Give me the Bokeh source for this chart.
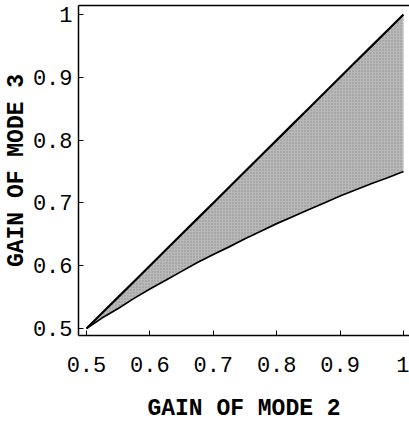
from bokeh.plotting import figure
from bokeh.models import Range1d, LinearAxis, FixedTicker
from bokeh.embed import file_html
from bokeh.resources import INLINE

# Gain of mode 2 (x) and the attainable band of mode 3 gains (y)
gain_mode2 = [0.5, 0.525, 0.55, 0.575, 0.6, 0.625, 0.65, 0.675, 0.7, 0.725, 0.75,
              0.775, 0.8, 0.825, 0.85, 0.875, 0.9, 0.925, 0.95, 0.975, 1.0]
upper_mode3 = [0.5, 0.525, 0.55, 0.575, 0.6, 0.625, 0.65, 0.675, 0.7, 0.725, 0.75,
               0.775, 0.8, 0.825, 0.85, 0.875, 0.9, 0.925, 0.95, 0.975, 1.0]
lower_mode3 = [0.5, 0.517, 0.532, 0.548, 0.563, 0.577, 0.591, 0.605, 0.618, 0.630, 0.643,
               0.655, 0.667, 0.678, 0.689, 0.700, 0.711, 0.721, 0.731, 0.740, 0.75]

tick_values = [0.5, 0.6, 0.7, 0.8, 0.9, 1.0]
tick_labels = {0.5: "0.5", 0.6: "0.6", 0.7: "0.7", 0.8: "0.8", 0.9: "0.9", 1.0: "1"}

FONT = "Liberation Mono"

p = figure(
    width=409, height=424,
    x_range=Range1d(0.4874, 1.0095),
    y_range=Range1d(0.4889, 1.0143),
    output_backend="svg", toolbar_location=None,
    min_border_left=78, min_border_right=0,
    min_border_top=5, min_border_bottom=88,
)
p.outline_line_color = None
p.grid.visible = False
p.background_fill_color = "white"
p.border_fill_color = "white"

# shaded feasible band
p.varea(x=gain_mode2, y1=lower_mode3, y2=upper_mode3,
        fill_color="#b9b9b9", fill_alpha=1.0,
        hatch_pattern="dot", hatch_color="#6e6e6e", hatch_scale=3, hatch_alpha=0.6)
p.line(gain_mode2, upper_mode3, line_color="black", line_width=2.2)
p.line(gain_mode2, lower_mode3, line_color="black", line_width=1.7)

for ax in (p.xaxis[0], p.yaxis[0]):
    ax.ticker = FixedTicker(ticks=tick_values)
    ax.major_label_overrides = tick_labels
    ax.major_tick_in = 5
    ax.major_tick_out = 0
    ax.minor_tick_line_color = None
    ax.axis_line_color = "black"
    ax.axis_line_width = 1.5
    ax.major_tick_line_color = "black"
    ax.major_label_text_font = FONT
    ax.major_label_text_font_size = "22px"
    ax.major_label_text_color = "black"
    ax.axis_label_text_font = FONT
    ax.axis_label_text_font_size = "23px"
    ax.axis_label_text_font_style = "bold"
    ax.axis_label_text_color = "black"

p.xaxis.axis_label = "GAIN OF MODE 2"
p.yaxis.axis_label = "GAIN OF MODE 3"
p.xaxis.major_label_standoff = 21
p.xaxis.axis_label_standoff = 21
p.yaxis.major_label_standoff = 6
p.yaxis.axis_label_standoff = 0

# top border of the frame
top = LinearAxis(ticker=FixedTicker(ticks=[]), major_tick_in=0, major_tick_out=0,
                 minor_tick_line_color=None, major_label_text_font_size="0px",
                 major_label_standoff=0, axis_line_color="black", axis_line_width=1.5)
p.add_layout(top, "above")

open("out.html", "w").write(file_html(p, INLINE))
